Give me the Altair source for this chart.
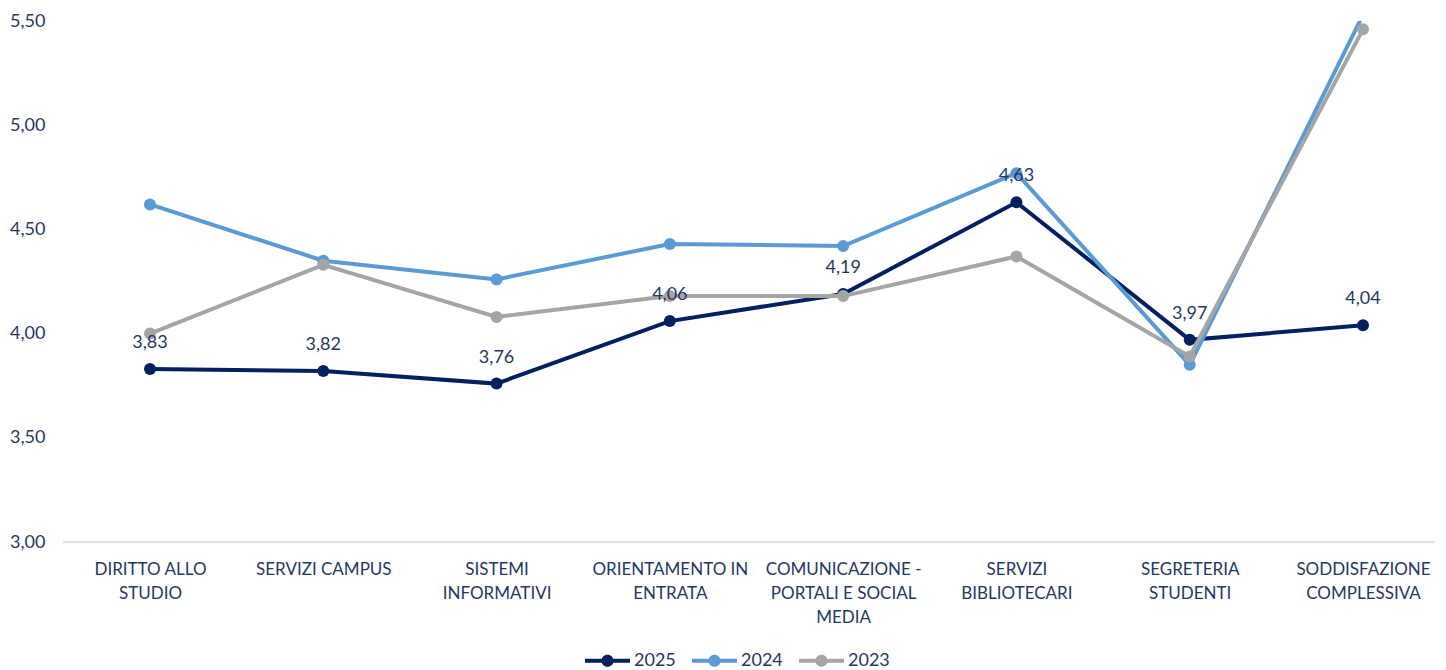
import altair as alt
import pandas as pd

categories = [
    "DIRITTO ALLO STUDIO",
    "SERVIZI CAMPUS",
    "SISTEMI INFORMATIVI",
    "ORIENTAMENTO IN ENTRATA",
    "COMUNICAZIONE - PORTALI E SOCIAL MEDIA",
    "SERVIZI BIBLIOTECARI",
    "SEGRETERIA STUDENTI",
    "SODDISFAZIONE COMPLESSIVA",
]
label_lines = [
    ["DIRITTO ALLO", "STUDIO"],
    ["SERVIZI CAMPUS"],
    ["SISTEMI", "INFORMATIVI"],
    ["ORIENTAMENTO IN", "ENTRATA"],
    ["COMUNICAZIONE -", "PORTALI E SOCIAL", "MEDIA"],
    ["SERVIZI", "BIBLIOTECARI"],
    ["SEGRETERIA", "STUDENTI"],
    ["SODDISFAZIONE", "COMPLESSIVA"],
]
series_names = ["2025", "2024", "2023"]
values_2025 = [3.83, 3.82, 3.76, 4.06, 4.19, 4.63, 3.97, 4.04]
values_2024 = [4.62, 4.35, 4.26, 4.43, 4.42, 4.77, 3.85, 5.53]
values_2023 = [4.00, 4.33, 4.08, 4.18, 4.18, 4.37, 3.89, 5.46]
series_colors = ["#002060", "#5B9BD5", "#A5A5A5"]
y_ticks = [3.0, 3.5, 4.0, 4.5, 5.0, 5.5]
baseline_value = [3.0]

rows = []
for s, vals in zip(series_names, [values_2025, values_2024, values_2023]):
    for c, v in zip(categories, vals):
        rows.append({"category": c, "series": s, "value": v})
df = pd.DataFrame(rows)

W, H = 1372, 521
FONT = "Lato, Open Sans, sans-serif"
TXT = "#1F3864"
FS_X = 17
FS_NUM = 18

label_expr = " : ".join(
    "datum.value == '%s' ? [%s]" % (c, ", ".join("'%s'" % l for l in lines))
    for c, lines in zip(categories, label_lines)
) + " : datum.label"

xscale = alt.Scale(type="point", domain=categories, range=[87, 1300], padding=0)
yscale = alt.Scale(domain=[3.0, 5.5], nice=False, zero=False)
cscale = alt.Scale(domain=series_names, range=series_colors)

x_axis = alt.Axis(
    title=None, labelAngle=0, domain=False, ticks=False, grid=False,
    labelExpr=label_expr, labelFontSize=FS_X, labelColor=TXT, labelFont=FONT,
    labelPadding=19, labelLineHeight=24, labelBaseline="top", labelLimit=300,
)
y_axis = alt.Axis(
    title=None, values=y_ticks, domain=False, ticks=False, grid=False,
    labelExpr="replace(format(datum.value, '.2f'), '.', ',')",
    labelFontSize=FS_NUM, labelColor=TXT, labelFont=FONT, labelPadding=18,
)
x_enc = alt.X("category:N", scale=xscale, sort=categories, axis=x_axis)
y_enc = alt.Y("value:Q", scale=yscale, axis=y_axis)

symbol_path = (
    "M -1 -0.09 L 1 -0.09 L 1 0.09 L -1 0.09 Z "
    "M 0.27 0 A 0.27 0.27 0 1 1 -0.27 0 A 0.27 0.27 0 1 1 0.27 0 Z"
)
c_enc = alt.Color(
    "series:N",
    scale=cscale,
    legend=alt.Legend(
        title=None, orient="none", direction="horizontal", legendX=522, legendY=617,
        symbolType=symbol_path, symbolSize=2025, symbolStrokeWidth=0,
        labelFontSize=FS_NUM, labelColor=TXT, labelFont=FONT, labelOffset=4,
        columnPadding=16,
    ),
)

baseline = alt.Chart(pd.DataFrame({"value": baseline_value})).mark_rule(
    color="#D9D9D9", strokeWidth=1.5
).encode(y=y_enc, x=alt.value(0), x2=alt.value(W))

layers = [baseline]
for s in series_names:
    base = alt.Chart(df).transform_filter(alt.datum.series == s).encode(
        x=x_enc, y=y_enc, color=c_enc
    )
    layers.append(base.mark_line(strokeWidth=4, clip=True))
    layers.append(base.mark_point(filled=True, size=144, opacity=1, clip=True))

labels = alt.Chart(df).transform_filter(alt.datum.series == "2025").transform_calculate(
    lbl="replace(format(datum.value, '.2f'), '.', ',')"
).mark_text(
    dy=-21, baseline="alphabetic", fontSize=FS_NUM, color=TXT, font=FONT
).encode(
    x=alt.X("category:N", scale=xscale, sort=categories),
    y=alt.Y("value:Q", scale=yscale),
    text="lbl:N",
)
layers.append(labels)

chart = alt.layer(*layers).properties(
    width=W, height=H,
    autosize=alt.AutoSizeParams(type="none"),
    padding={"left": 55, "top": 13, "right": 0, "bottom": 128},
).configure(background="white").configure_view(stroke=None)

chart.save("out.html", embed_options={"renderer": "svg", "actions": False})
